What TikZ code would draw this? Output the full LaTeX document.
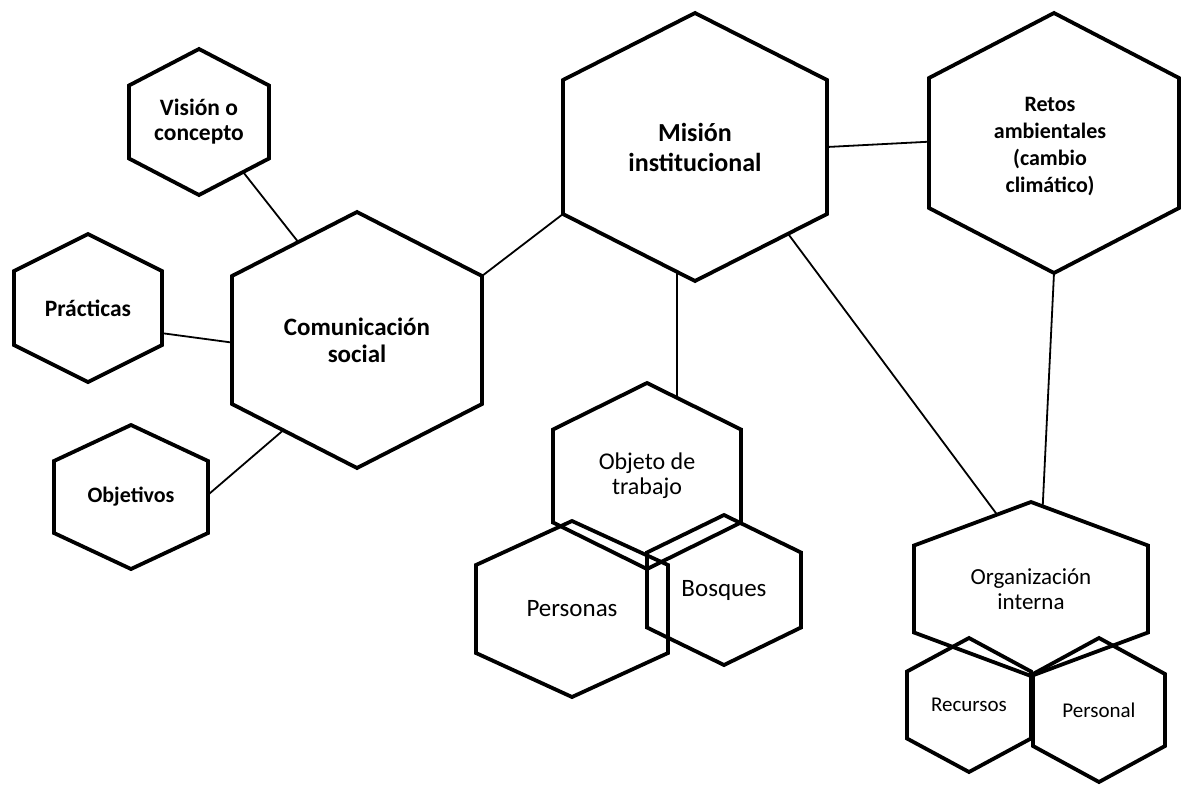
\documentclass[tikz,border=0pt]{standalone}
\usepackage{fontspec}
\setmainfont{Carlito}
\usetikzlibrary{calc}
\newcommand\hexcell[5]{%
  \path (#2,#3) coordinate (#1-c)
    +(0,-#5) coordinate (#1-t)
    +(#4,-#5/2) coordinate (#1-ur)
    +(#4,#5/2) coordinate (#1-lr)
    +(0,#5) coordinate (#1-b)
    +(-#4,#5/2) coordinate (#1-ll)
    +(-#4,-#5/2) coordinate (#1-ul);
  \draw[hexline] (#1-t) -- (#1-ur) -- (#1-lr) -- (#1-b) -- (#1-ll) -- (#1-ul) -- cycle;
}
\begin{document}
\begin{tikzpicture}[x=1pt,y=-1pt,
  hexline/.style={line width=3.8pt, line join=miter},
  link/.style={line width=1.8pt},
  lbl/.style={align=center, inner sep=0pt}]
\useasboundingbox (0,0) rectangle (1181,787);
% hexagons
\hexcell{vis}{199}{122}{70}{73}
\hexcell{prac}{88}{308}{74}{74}
\hexcell{objv}{131}{497}{77}{72}
\hexcell{com}{357}{340}{125}{128}
\hexcell{mis}{695}{147}{132}{134}
\hexcell{ret}{1054}{143}{125}{130}
\hexcell{obj}{647}{476}{94}{93}
\hexcell{per}{572}{609}{96}{88}
\hexcell{bos}{724}{590}{77}{75}
\hexcell{org}{1031}{589}{117}{87}
\hexcell{rec}{969}{705}{62}{67}
\hexcell{pes}{1099}{710}{66}{72}
% labels
\node[lbl, font=\bfseries\fontsize{23.5}{25}\selectfont] (vis) at (vis-c) {Visión o\\concepto};
\node[lbl, font=\bfseries\fontsize{23.5}{25}\selectfont] (prac) at (prac-c) {Prácticas};
\node[lbl, font=\bfseries\fontsize{22}{25}\selectfont] (objv) at (objv-c) {Objetivos};
\node[lbl, font=\bfseries\fontsize{25}{27}\selectfont] (com) at (com-c) {Comunicación\\social};
\node[lbl, font=\bfseries\fontsize{26}{30}\selectfont] (mis) at (mis-c) {Misión\\institucional};
\node[lbl, font=\bfseries\fontsize{22}{27}\selectfont] (ret) at ($(ret-c)+(-4,4)$) {Retos\\ambientales\\(cambio\\climático)};
\node[lbl, font=\fontsize{24}{25}\selectfont] (obj) at (obj-c) {Objeto de\\trabajo};
\node[lbl, font=\fontsize{25}{28}\selectfont] (per) at (per-c) {Personas};
\node[lbl, font=\fontsize{25}{28}\selectfont] (bos) at (bos-c) {Bosques};
\node[lbl, font=\fontsize{23}{25}\selectfont] (org) at (org-c) {Organización\\interna};
\node[lbl, font=\fontsize{21}{25}\selectfont] (rec) at (rec-c) {Recursos};
\node[lbl, font=\fontsize{21}{25}\selectfont] (pes) at (pes-c) {Personal};
% connectors
\draw[link] ($(vis-lr)!0.37!(vis-b)$) -- ($(com-ul)!0.53!(com-t)$);
\draw[link] ($(prac-ur)!0.84!(prac-lr)$) -- ($(com-ul)!0.52!(com-ll)$);
\draw[link] ($(objv-ur)!0.47!(objv-lr)$) -- ($(com-ll)!0.41!(com-b)$);
\draw[link] (com-ur) -- (mis-ll);
\draw[link] ($(mis-ur)!0.5!(mis-lr)$) -- ($(ret-ul)!0.49!(ret-ll)$);
\draw[link] ($(mis-ll)!0.864!(mis-b)$) -- ($(obj-t)!0.32!(obj-ur)$);
\draw[link] ($(mis-lr)!0.295!(mis-b)$) -- ($(org-t)!0.29!(org-ul)$);
\draw[link] (ret-b) -- ($(org-t)!0.1!(org-ur)$);
\end{tikzpicture}
\end{document}
